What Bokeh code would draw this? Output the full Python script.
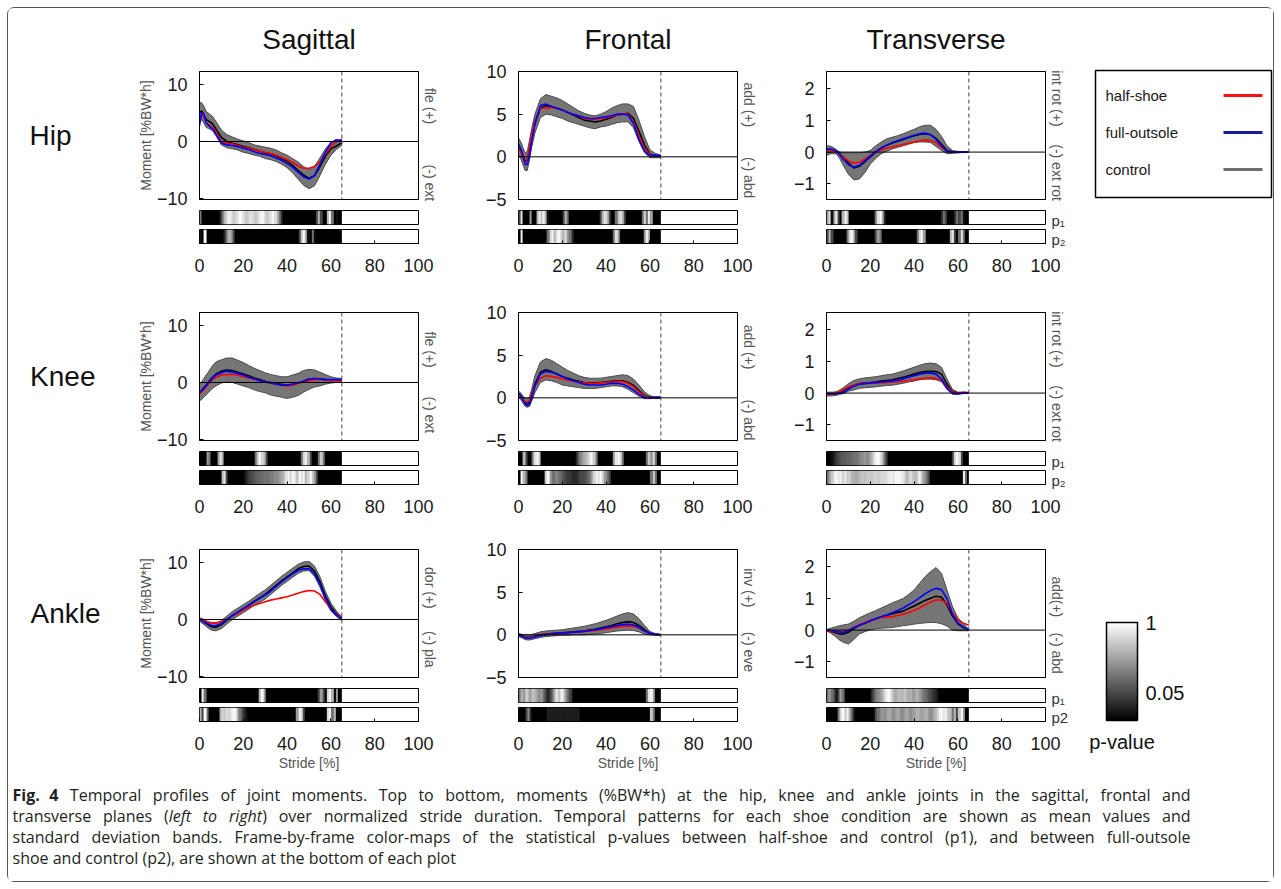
import subprocess
import numpy as np
from bokeh.plotting import figure
from bokeh.models import (Range1d, LinearAxis, FixedTicker, Span, LogColorMapper,
                          ColorBar, Spacer)
from bokeh.layouts import column, row
from bokeh.palettes import Greys256
from bokeh.embed import file_html
from bokeh.resources import INLINE
from bokeh.core.properties import value

# ------------------------------------------------------------------ data
STRIDE = [0, 1, 2, 3, 4, 5, 6, 7.5, 10, 12.5, 15, 17.5, 20, 22.5, 25, 27.5, 30,
          32.5, 35, 37.5, 40, 42.5, 45, 47.5, 50, 52.5, 55, 57.5, 60, 62.5, 65]
TOE_OFF = 65          # end of stance (% stride), dashed line
FRAME_STEP = 1        # one p-value per 1 % of stride

PLANES = ["Sagittal", "Frontal", "Transverse"]
JOINTS = ["Hip", "Knee", "Ankle"]
SERIES_LABELS = ["half-shoe", "full-outsole", "control"]
X_TICKS = [0, 20, 40, 60, 80, 100]
Y_TICKS = {"Sagittal": [-10, 0, 10], "Frontal": [-5, 0, 5, 10], "Transverse": [-1, 0, 1, 2]}
Y_LIMITS = {"Sagittal": (-10.2, 12.3), "Frontal": (-5, 10), "Transverse": (-1.5, 2.55)}
Y_LABEL = "Moment [%BW*h]"
X_LABEL = "Stride [%]"
SIDE_LABELS = {
    ("Hip", "Sagittal"): ("fle (+)", 73, "(-) ext", 13),
    ("Hip", "Frontal"): ("add (+)", 74, "(-) abd", 17),
    ("Hip", "Transverse"): ("int rot (+)", 79, "(-) ext rot", 21),
    ("Knee", "Sagittal"): ("fle (+)", 71, "(-) ext", 20),
    ("Knee", "Frontal"): ("add (+)", 73, "(-) abd", 16),
    ("Knee", "Transverse"): ("int rot (+)", 79, "(-) ext rot", 21),
    ("Ankle", "Sagittal"): ("dor (+)", 70, "(-) pla", 22),
    ("Ankle", "Frontal"): ("inv (+)", 70, "(-) eve", 20),
    ("Ankle", "Transverse"): ("add(+)", 63, "(-) abd", 19),
}
P_LABELS = {"Hip": ["p\u2081", "p\u2082"], "Knee": ["p\u2081", "p\u2082"], "Ankle": ["p\u2081", "p2"]}
P_TICKS = [0.05, 1]
P_LOW, P_HIGH = 0.0156, 1.0

# ---- hip
hip_sag_half = [3.5, 4.7, 4.4, 3.3, 3.0, 2.8, 2.4, 1.7, -0.1, -0.3, -0.4, -0.7, -1.0, -1.2, -1.4, -1.7, -1.9, -2.1, -2.4, -2.8, -3.2, -3.7, -4.3, -4.7, -4.7, -4.4, -3.5, -2.2, -0.9, 0.0, 0.4]
hip_sag_full = [2.8, 5.1, 4.8, 3.3, 2.9, 2.5, 2.2, 1.3, -0.3, -0.6, -0.7, -0.9, -1.2, -1.4, -1.8, -2.1, -2.3, -2.5, -2.9, -3.3, -3.9, -4.5, -5.4, -6.2, -6.6, -6.0, -4.0, -1.9, -0.2, 0.3, 0.1]
hip_sag_ctrl = [5.0, 5.4, 4.6, 3.9, 3.6, 3.4, 3.1, 2.2, 0.7, 0.0, -0.3, -0.6, -0.9, -1.1, -1.4, -1.7, -2.0, -2.2, -2.5, -3.0, -3.5, -4.2, -5.1, -5.9, -6.5, -6.0, -4.4, -2.6, -1.3, -0.8, -0.2]
hip_sag_hi = [6.9, 6.8, 6.2, 5.3, 5.0, 4.7, 4.4, 3.5, 2.0, 1.2, 0.8, 0.4, 0.1, -0.2, -0.6, -0.8, -1.0, -1.2, -1.5, -2.0, -2.4, -3.0, -3.6, -4.4, -5.0, -4.4, -2.9, -1.3, -0.2, -0.1, 0.2]
hip_sag_lo = [3.3, 3.9, 3.2, 2.5, 2.3, 2.1, 1.9, 1.0, -0.6, -1.1, -1.3, -1.5, -1.9, -2.1, -2.4, -2.6, -3.0, -3.2, -3.5, -4.0, -4.6, -5.5, -6.6, -7.7, -8.3, -7.8, -6.0, -4.0, -2.4, -1.4, -0.7]

hip_fro_half = [1.0, 0.6, -0.1, -0.7, -0.5, 1.2, 2.6, 4.2, 5.7, 5.7, 5.8, 5.7, 5.5, 5.2, 5.0, 4.8, 4.5, 4.4, 4.4, 4.5, 4.6, 4.7, 4.9, 5.0, 5.0, 4.1, 2.4, 1.0, 0.3, 0.15, 0.1]
hip_fro_full = [1.5, 1.0, 0.2, -0.9, -0.9, 0.2, 1.8, 3.9, 6.0, 6.2, 5.9, 5.7, 5.5, 5.2, 5.0, 4.8, 4.6, 4.5, 4.5, 4.6, 4.7, 4.8, 5.0, 5.0, 4.9, 3.9, 2.0, 0.7, 0.15, 0.2, 0.15]
hip_fro_ctrl = [1.2, 0.8, 0.1, -0.5, -0.4, 0.8, 2.2, 3.9, 5.7, 6.0, 5.9, 5.7, 5.5, 5.2, 4.9, 4.6, 4.3, 4.2, 4.1, 4.2, 4.4, 4.6, 4.9, 5.0, 5.1, 4.5, 3.0, 1.4, 0.3, 0.15, 0.05]
hip_fro_hi = [2.2, 1.8, 1.1, 0.5, 0.6, 1.9, 3.3, 5.0, 6.8, 7.3, 7.1, 6.9, 6.6, 6.2, 5.8, 5.4, 5.1, 4.9, 4.8, 5.0, 5.3, 5.7, 6.0, 6.2, 6.2, 5.9, 4.3, 2.4, 0.8, 0.4, 0.2]
hip_fro_lo = [0.2, -0.2, -0.9, -1.6, -1.6, -0.4, 1.1, 2.8, 4.6, 5.0, 4.9, 4.7, 4.5, 4.2, 4.0, 3.8, 3.6, 3.4, 3.3, 3.5, 3.6, 3.8, 4.0, 4.1, 4.1, 3.4, 1.8, 0.5, -0.1, -0.1, -0.1]

hip_tra_half = [0.05, 0.05, 0.05, 0.04, 0.02, -0.02, -0.07, -0.15, -0.28, -0.35, -0.32, -0.22, -0.1, 0.0, 0.07, 0.12, 0.16, 0.2, 0.24, 0.28, 0.32, 0.36, 0.38, 0.37, 0.3, 0.15, 0.03, 0.0, -0.01, 0.0, 0.0]
hip_tra_full = [0.1, 0.1, 0.1, 0.08, 0.05, 0.0, -0.08, -0.22, -0.4, -0.48, -0.42, -0.28, -0.12, 0.02, 0.13, 0.22, 0.3, 0.36, 0.42, 0.48, 0.53, 0.58, 0.6, 0.55, 0.4, 0.2, 0.03, 0.0, 0.0, 0.0, 0.0]
hip_tra_ctrl = [0.06, 0.07, 0.07, 0.06, 0.04, 0.01, -0.05, -0.15, -0.35, -0.5, -0.45, -0.3, -0.15, 0.0, 0.13, 0.22, 0.29, 0.34, 0.4, 0.46, 0.52, 0.56, 0.58, 0.55, 0.43, 0.25, 0.06, 0.0, 0.0, 0.0, 0.0]
hip_tra_hi = [0.2, 0.2, 0.18, 0.15, 0.1, 0.05, 0.0, -0.02, -0.02, -0.02, -0.02, 0.0, 0.05, 0.2, 0.32, 0.42, 0.47, 0.52, 0.58, 0.65, 0.72, 0.8, 0.85, 0.85, 0.72, 0.5, 0.2, 0.05, 0.02, 0.01, 0.0]
hip_tra_lo = [-0.1, -0.08, -0.05, -0.05, -0.05, -0.1, -0.2, -0.4, -0.7, -0.88, -0.85, -0.65, -0.38, -0.2, -0.05, 0.03, 0.1, 0.15, 0.2, 0.25, 0.3, 0.32, 0.32, 0.3, 0.18, 0.05, -0.05, -0.04, -0.02, -0.01, 0.0]

# ---- knee
knee_sag_half = [-2.1, -1.7, -1.3, -0.8, -0.3, 0.1, 0.5, 0.9, 1.3, 1.4, 1.4, 1.3, 1.0, 0.8, 0.6, 0.3, 0.1, -0.1, -0.3, -0.5, -0.6, -0.5, -0.2, 0.1, 0.3, 0.5, 0.5, 0.5, 0.3, 0.3, 0.3]
knee_sag_full = [-1.8, -1.5, -1.0, -0.6, -0.1, 0.3, 0.8, 1.3, 1.7, 2.0, 1.8, 1.6, 1.3, 0.9, 0.6, 0.3, 0.1, -0.1, -0.3, -0.5, -0.5, -0.3, -0.1, 0.2, 0.6, 0.7, 0.6, 0.5, 0.5, 0.5, 0.5]
knee_sag_ctrl = [-1.7, -1.4, -0.9, -0.5, 0.0, 0.5, 0.9, 1.5, 2.0, 2.2, 2.1, 1.8, 1.5, 1.2, 0.8, 0.5, 0.2, 0.0, -0.2, -0.3, -0.5, -0.3, -0.1, 0.2, 0.6, 0.7, 0.6, 0.5, 0.4, 0.4, 0.4]
knee_sag_hi = [-0.3, 0.1, 0.7, 1.3, 1.8, 2.4, 3.0, 3.6, 4.0, 4.3, 4.3, 3.9, 3.5, 3.0, 2.5, 2.1, 1.7, 1.4, 1.2, 1.0, 1.0, 1.3, 1.6, 2.1, 2.3, 2.2, 1.8, 1.4, 1.0, 0.8, 0.7]
knee_sag_lo = [-3.2, -3.0, -2.5, -2.2, -1.8, -1.4, -1.0, -0.6, -0.1, 0.1, 0.0, -0.3, -0.6, -0.9, -1.3, -1.6, -1.8, -2.2, -2.4, -2.6, -2.8, -2.6, -2.3, -1.7, -1.2, -0.8, -0.6, -0.3, -0.1, 0.0, 0.1]

knee_fro_half = [0.3, 0.1, -0.2, -0.4, -0.5, -0.3, 0.4, 1.4, 2.3, 2.6, 2.5, 2.4, 2.2, 2.1, 1.95, 1.85, 1.75, 1.7, 1.7, 1.75, 1.8, 1.85, 1.9, 1.9, 1.7, 1.3, 0.7, 0.2, 0.0, 0.05, 0.1]
knee_fro_full = [0.5, 0.3, -0.2, -0.7, -0.9, -0.8, 0.0, 1.4, 2.8, 3.1, 3.0, 2.8, 2.5, 2.2, 2.0, 1.8, 1.6, 1.5, 1.5, 1.5, 1.6, 1.7, 1.7, 1.6, 1.3, 0.9, 0.4, 0.05, 0.0, 0.05, 0.1]
knee_fro_ctrl = [0.45, 0.2, -0.2, -0.5, -0.7, -0.5, 0.3, 1.6, 3.0, 3.3, 3.1, 2.8, 2.5, 2.3, 2.1, 1.95, 1.8, 1.75, 1.75, 1.8, 1.85, 1.95, 2.0, 2.0, 1.8, 1.45, 0.85, 0.27, 0.05, 0.0, 0.0]
knee_fro_hi = [0.8, 0.6, 0.2, 0.0, -0.1, 0.1, 1.0, 2.6, 4.2, 4.6, 4.4, 4.0, 3.6, 3.2, 2.9, 2.6, 2.4, 2.3, 2.3, 2.3, 2.4, 2.5, 2.6, 2.7, 2.6, 2.2, 1.5, 0.7, 0.25, 0.1, 0.05]
knee_fro_lo = [0.1, -0.2, -0.6, -1.0, -1.1, -1.0, -0.4, 0.6, 1.8, 2.1, 2.0, 1.8, 1.5, 1.4, 1.3, 1.2, 1.1, 1.1, 1.1, 1.2, 1.3, 1.4, 1.4, 1.3, 1.0, 0.6, 0.2, -0.1, -0.1, -0.05, -0.05]

knee_tra_half = [-0.05, -0.04, -0.03, -0.02, 0.0, 0.02, 0.05, 0.1, 0.2, 0.25, 0.3, 0.31, 0.32, 0.32, 0.33, 0.34, 0.35, 0.36, 0.38, 0.4, 0.42, 0.45, 0.47, 0.48, 0.47, 0.4, 0.2, 0.03, 0.0, 0.02, 0.02]
knee_tra_full = [-0.02, -0.02, -0.02, -0.02, -0.02, -0.02, 0.0, 0.02, 0.12, 0.22, 0.28, 0.3, 0.32, 0.33, 0.35, 0.36, 0.38, 0.41, 0.45, 0.5, 0.55, 0.6, 0.63, 0.64, 0.6, 0.45, 0.15, 0.0, -0.03, 0.0, 0.0]
knee_tra_ctrl = [-0.03, -0.03, -0.03, -0.03, -0.02, 0.0, 0.03, 0.07, 0.18, 0.25, 0.3, 0.32, 0.33, 0.35, 0.38, 0.4, 0.42, 0.46, 0.5, 0.55, 0.6, 0.65, 0.68, 0.69, 0.68, 0.6, 0.28, 0.04, 0.0, 0.02, 0.0]
knee_tra_hi = [0.03, 0.03, 0.03, 0.03, 0.04, 0.06, 0.1, 0.16, 0.3, 0.4, 0.45, 0.48, 0.5, 0.52, 0.55, 0.58, 0.6, 0.65, 0.7, 0.76, 0.82, 0.88, 0.93, 0.95, 0.93, 0.82, 0.45, 0.12, 0.03, 0.03, 0.02]
knee_tra_lo = [-0.09, -0.09, -0.09, -0.08, -0.08, -0.06, -0.04, -0.02, 0.06, 0.1, 0.15, 0.17, 0.18, 0.2, 0.22, 0.24, 0.25, 0.28, 0.31, 0.35, 0.38, 0.42, 0.44, 0.44, 0.42, 0.36, 0.12, -0.04, -0.04, 0.0, -0.02]

# ---- ankle
ank_sag_half = [0.0, -0.1, -0.2, -0.35, -0.45, -0.55, -0.6, -0.6, -0.35, 0.1, 0.6, 1.1, 1.7, 2.1, 2.5, 2.8, 3.1, 3.4, 3.6, 3.8, 4.0, 4.3, 4.6, 4.9, 5.1, 5.0, 4.4, 3.1, 1.8, 0.9, 0.4]
ank_sag_full = [0.0, -0.2, -0.4, -0.6, -0.8, -1.0, -1.1, -1.1, -0.7, 0.0, 0.7, 1.3, 1.9, 2.5, 3.1, 3.7, 4.3, 5.0, 5.8, 6.6, 7.3, 8.0, 8.6, 8.9, 8.9, 8.0, 6.2, 3.8, 1.8, 0.8, 0.2]
ank_sag_ctrl = [0.0, -0.2, -0.45, -0.7, -0.95, -1.2, -1.3, -1.35, -0.9, -0.1, 0.7, 1.3, 1.9, 2.5, 3.2, 3.8, 4.4, 5.2, 6.0, 6.8, 7.5, 8.2, 8.9, 9.3, 9.4, 8.5, 6.6, 4.1, 2.2, 1.0, 0.1]
ank_sag_hi = [0.3, 0.2, 0.0, -0.2, -0.4, -0.6, -0.7, -0.7, -0.2, 0.6, 1.4, 2.0, 2.6, 3.2, 3.9, 4.6, 5.2, 6.0, 6.8, 7.6, 8.3, 9.0, 9.7, 10.1, 10.2, 9.4, 7.5, 4.9, 2.9, 1.5, 0.4]
ank_sag_lo = [-0.3, -0.6, -0.9, -1.2, -1.5, -1.8, -1.9, -2.0, -1.6, -0.8, 0.0, 0.6, 1.2, 1.8, 2.5, 3.0, 3.6, 4.4, 5.2, 6.0, 6.7, 7.4, 8.1, 8.5, 8.6, 7.6, 5.7, 3.3, 1.5, 0.5, -0.2]

ank_fro_half = [0.0, -0.1, -0.2, -0.3, -0.35, -0.35, -0.3, -0.2, -0.05, 0.05, 0.1, 0.15, 0.2, 0.25, 0.3, 0.35, 0.4, 0.45, 0.5, 0.6, 0.7, 0.8, 0.9, 1.0, 1.05, 1.0, 0.8, 0.45, 0.15, 0.05, 0.0]
ank_fro_full = [0.0, -0.1, -0.2, -0.35, -0.4, -0.4, -0.35, -0.25, -0.1, 0.0, 0.1, 0.15, 0.2, 0.25, 0.3, 0.35, 0.4, 0.5, 0.6, 0.7, 0.85, 0.95, 1.1, 1.2, 1.25, 1.15, 0.85, 0.45, 0.15, 0.05, 0.0]
ank_fro_ctrl = [0.0, -0.1, -0.2, -0.3, -0.3, -0.3, -0.25, -0.15, 0.0, 0.1, 0.15, 0.2, 0.25, 0.3, 0.35, 0.4, 0.45, 0.55, 0.65, 0.8, 0.95, 1.1, 1.3, 1.45, 1.55, 1.45, 1.1, 0.6, 0.2, 0.05, 0.0]
ank_fro_hi = [0.2, 0.1, 0.0, 0.0, 0.0, 0.0, 0.05, 0.15, 0.35, 0.45, 0.5, 0.55, 0.6, 0.7, 0.8, 0.9, 1.0, 1.15, 1.3, 1.5, 1.7, 1.95, 2.2, 2.45, 2.6, 2.45, 1.9, 1.1, 0.4, 0.15, 0.05]
ank_fro_lo = [-0.2, -0.3, -0.4, -0.55, -0.6, -0.6, -0.55, -0.45, -0.3, -0.2, -0.15, -0.1, -0.05, -0.05, 0.0, 0.0, 0.0, 0.05, 0.1, 0.15, 0.25, 0.35, 0.45, 0.5, 0.55, 0.5, 0.35, 0.1, 0.0, -0.05, -0.05]

ank_tra_half = [-0.02, -0.03, -0.04, -0.04, -0.05, -0.05, -0.05, -0.05, 0.0, 0.08, 0.17, 0.24, 0.3, 0.35, 0.4, 0.41, 0.42, 0.46, 0.5, 0.56, 0.62, 0.7, 0.8, 0.88, 0.95, 0.95, 0.85, 0.55, 0.32, 0.22, 0.15]
ank_tra_full = [0.0, -0.01, -0.02, -0.03, -0.04, -0.05, -0.06, -0.08, -0.02, 0.08, 0.15, 0.22, 0.3, 0.36, 0.42, 0.48, 0.55, 0.62, 0.7, 0.8, 0.9, 1.02, 1.15, 1.25, 1.32, 1.28, 1.0, 0.5, 0.22, 0.1, 0.0]
ank_tra_ctrl = [0.0, -0.02, -0.04, -0.06, -0.08, -0.1, -0.12, -0.13, -0.07, 0.05, 0.15, 0.22, 0.29, 0.36, 0.42, 0.47, 0.52, 0.56, 0.6, 0.68, 0.76, 0.85, 0.94, 1.01, 1.07, 1.04, 0.8, 0.45, 0.2, 0.08, 0.0]
ank_tra_hi = [0.02, 0.04, 0.06, 0.08, 0.1, 0.12, 0.14, 0.16, 0.19, 0.28, 0.39, 0.47, 0.55, 0.62, 0.7, 0.78, 0.86, 0.93, 1.0, 1.13, 1.27, 1.48, 1.69, 1.85, 1.98, 1.8, 1.27, 0.75, 0.39, 0.2, 0.02]
ank_tra_lo = [-0.02, -0.06, -0.1, -0.15, -0.2, -0.26, -0.32, -0.38, -0.44, -0.3, -0.12, -0.05, 0.01, 0.04, 0.06, 0.07, 0.08, 0.11, 0.14, 0.16, 0.19, 0.21, 0.23, 0.24, 0.24, 0.2, 0.13, 0.0, -0.02, -0.02, -0.02]

# ---- frame-by-frame p-values (one per 1 % stride, 0..64)
hip_sag_p1 = [.1, .001, .001, .001, .001, .001, .001, .001, .001, .03,
              .1, .3, .5, .8, .6, .4, .5, .6, .9, .7,
              .5, .4, .5, .6, .5, .4, .5, .7, .9, .6,
              .4, .5, .6, .9, .6, .3, .1, .03, .001, .001,
              .001, .001, .001, .001, .001, .001, .001, .001, .001, .001,
              .001, .001, .001, .05, .3, .05, .001, .001, .3, .9,
              .1, .001, .02, .001, .001]
hip_sag_p2 = [.02, .001, .9, .001, .001, .001, .001, .001, .001, .001,
              .001, .03, .1, .3, .2, .05, .01, .001, .001, .001,
              .001, .001, .001, .001, .001, .001, .001, .001, .001, .001,
              .001, .001, .001, .001, .001, .001, .001, .001, .001, .001,
              .001, .001, .001, .001, .001, .05, .4, .9, .3, .02,
              .001, .1, .02, .001, .001, .001, .001, .001, .001, .001,
              .001, .001, .001, .001, .001]
hip_fro_p1 = [.05, .6, .01, .001, .001, .2, .01, .001, .3, .7,
              .4, .8, .3, .02, .001, .001, .001, .001, .001, .001,
              .05, .3, .1, .001, .001, .001, .001, .001, .001, .001,
              .001, .001, .001, .001, .001, .001, .001, .05, .3, .6,
              .3, .05, .001, .001, .1, .4, .6, .3, .05, .001,
              .001, .001, .001, .001, .001, .001, .1, .5, .1, .7,
              .2, .001, .001, .001, .001]
hip_fro_p2 = [.001, .8, .001, .001, .001, .001, .001, .001, .001, .001,
              .001, .001, .001, .1, .5, .8, .3, .6, .9, .4,
              .3, .6, .2, .1, .03, .001, .001, .001, .001, .001,
              .001, .001, .001, .001, .001, .001, .001, .001, .001, .001,
              .001, .001, .001, .1, .6, .2, .001, .001, .001, .001,
              .001, .001, .001, .001, .001, .001, .001, .2, .8, .3,
              .001, .001, .001, .001, .001]
hip_tra_p1 = [.2, .6, .02, .3, .7, .05, .001, .3, .8, .4,
              .001, .001, .001, .001, .001, .001, .001, .001, .001, .001,
              .001, .001, .1, .6, .9, .3, .03, .001, .001, .001,
              .001, .001, .001, .001, .001, .001, .001, .001, .001, .001,
              .001, .001, .001, .001, .001, .001, .001, .001, .001, .001,
              .001, .001, .03, .1, .05, .001, .001, .001, .03, .1,
              .05, .1, .02, .001, .001]
hip_tra_p2 = [.05, .3, .05, .001, .001, .001, .001, .001, .001, .1,
              .5, .9, .4, .05, .001, .001, .001, .001, .001, .001,
              .001, .001, .05, .2, .1, .001, .001, .001, .001, .001,
              .001, .001, .001, .001, .001, .001, .001, .001, .001, .001,
              .001, .1, .5, .9, .2, .001, .001, .001, .001, .001,
              .001, .001, .001, .001, .001, .001, .3, .7, .05, .001,
              .1, .6, .1, .001, .001]
knee_sag_p1 = [.001, .001, .001, .2, .1, .001, .001, .001, .2, .6,
               .3, .001, .001, .001, .001, .001, .001, .001, .001, .001,
               .001, .001, .001, .001, .001, .1, .4, .9, .5, .3,
               .05, .001, .001, .001, .001, .001, .001, .001, .001, .001,
               .001, .001, .001, .001, .001, .001, .1, .5, .8, .3,
               .05, .001, .001, .001, .1, .4, .1, .001, .001, .001,
               .001, .001, .001, .001, .001]
knee_sag_p2 = [.001, .001, .001, .001, .001, .001, .001, .001, .001, .001,
               .3, .6, .05, .001, .001, .001, .001, .001, .001, .001,
               .02, .03, .04, .05, .06, .07, .08, .08, .09, .1,
               .1, .1, .12, .12, .15, .15, .2, .25, .3, .6,
               .8, .5, .9, .7, .4, .9, .6, .8, .3, .5,
               .9, .4, .2, .05, .001, .001, .001, .001, .001, .001,
               .001, .001, .001, .001, .001]
knee_fro_p1 = [.001, .001, .3, .05, .001, .001, .1, .6, .9, .4,
               .001, .001, .001, .001, .001, .001, .001, .001, .001, .001,
               .001, .001, .001, .001, .001, .001, .03, .08, .15, .25,
               .3, .4, .6, .9, .4, .1, .001, .001, .001, .001,
               .001, .001, .001, .2, .7, .9, .5, .1, .001, .001,
               .001, .001, .001, .001, .001, .001, .001, .001, .1, .4,
               .2, .5, .1, .001, .001]
knee_fro_p2 = [.001, .9, .3, .1, .001, .001, .001, .001, .001, .001,
               .001, .001, .4, .9, .2, .1, .1, .15, .1, .08,
               .06, .05, .04, .04, .03, .03, .03, .04, .05, .05,
               .06, .08, .1, .2, .5, .8, .6, .9, .5, .2,
               .1, .05, .001, .001, .001, .001, .001, .001, .001, .001,
               .001, .001, .001, .001, .001, .001, .001, .001, .001, .001,
               .1, .4, .1, .001, .001]
knee_tra_p1 = [.001, .001, .02, .03, .04, .05, .06, .07, .07, .08,
               .08, .09, .1, .1, .12, .15, .15, .2, .15, .2,
               .3, .5, .8, .9, .6, .3, .1, .04, .001, .001,
               .001, .001, .001, .001, .001, .001, .001, .001, .001, .001,
               .001, .001, .001, .001, .001, .001, .001, .001, .001, .001,
               .001, .001, .001, .001, .001, .001, .001, .05, .5, .9,
               .6, .05, .001, .001, .001]
knee_tra_p2 = [.1, .2, .4, .7, .9, .6, .8, .5, .7, .4,
               .5, .3, .3, .25, .3, .35, .4, .35, .4, .45,
               .4, .45, .5, .45, .5, .55, .5, .6, .7, .8,
               .6, .9, .8, .9, .7, .5, .3, .4, .6, .4,
               .3, .5, .8, .4, .2, .1, .05, .001, .001, .001,
               .001, .001, .001, .001, .001, .001, .001, .001, .001, .001,
               .001, .001, .8, .1, .001]
ank_sag_p1 = [.001, .9, .1, .001, .001, .001, .001, .001, .001, .001,
              .001, .001, .001, .001, .001, .001, .001, .001, .001, .001,
              .001, .001, .001, .001, .001, .001, .001, .3, .9, .2,
              .001, .001, .001, .001, .001, .001, .001, .001, .001, .001,
              .001, .001, .001, .001, .001, .001, .001, .001, .001, .001,
              .001, .001, .001, .001, .05, .2, .05, .001, .5, .9,
              .3, .001, .2, .001, .001]
ank_sag_p2 = [.3, .05, .9, .1, .001, .001, .001, .001, .001, .3,
              .5, .4, .6, .5, .7, .9, .8, .3, .1, .05,
              .03, .02, .001, .001, .001, .001, .001, .001, .001, .001,
              .001, .001, .001, .001, .001, .001, .001, .001, .001, .001,
              .001, .001, .001, .001, .2, .8, .5, .05, .001, .001,
              .001, .001, .001, .001, .001, .001, .001, .001, .5, .9,
              .1, .3, .001, .001, .001]
ank_fro_p1 = [.1, .3, .2, .5, .3, .2, .4, .3, .2, .15,
              .2, .1, .05, .03, .05, .1, .3, .7, .4, .9,
              .5, .2, .1, .05, .02, .001, .001, .001, .001, .001,
              .001, .001, .001, .001, .001, .001, .001, .001, .001, .001,
              .001, .001, .001, .001, .001, .001, .001, .001, .001, .001,
              .001, .001, .001, .001, .001, .001, .001, .001, .1, .6,
              .8, .2, .001, .001, .001]
ank_fro_p2 = [.001, .001, .001, .05, .15, .03, .001, .001, .001, .001,
              .001, .001, .01, .025, .025, .025, .025, .025, .025, .025,
              .025, .025, .025, .025, .025, .025, .025, .025, .001, .001,
              .001, .001, .001, .001, .001, .001, .001, .001, .001, .001,
              .001, .001, .001, .001, .001, .001, .001, .001, .001, .001,
              .001, .001, .001, .001, .001, .001, .001, .001, .001, .001,
              .4, .1, .001, .001, .001]
ank_tra_p1 = [.1, .2, .1, .05, .02, .05, .2, .1, .001, .001,
              .001, .001, .001, .001, .001, .001, .001, .001, .001, .001,
              .03, .06, .1, .15, .2, .3, .5, .8, .9, .5,
              .3, .25, .3, .35, .3, .4, .3, .25, .3, .2,
              .25, .3, .2, .15, .1, .08, .06, .05, .04, .03,
              .02, .001, .001, .001, .001, .001, .001, .001, .001, .001,
              .001, .001, .001, .001, .001]
ank_tra_p2 = [.001, .001, .001, .001, .001, .1, .5, .9, .4, .8,
              .3, .1, .03, .001, .001, .001, .001, .001, .001, .001,
              .001, .001, .05, .1, .15, .2, .15, .2, .25, .2,
              .15, .2, .25, .2, .15, .2, .25, .2, .15, .2,
              .25, .3, .25, .2, .25, .3, .2, .15, .2, .3,
              .5, .8, .9, .6, .8, .4, .3, .1, .3, .05,
              .4, .9, .2, .001, .001]

PANELS = {
    ("Hip", "Sagittal"): dict(half=hip_sag_half, full=hip_sag_full, ctrl=hip_sag_ctrl, lo=hip_sag_lo, hi=hip_sag_hi, p1=hip_sag_p1, p2=hip_sag_p2),
    ("Hip", "Frontal"): dict(half=hip_fro_half, full=hip_fro_full, ctrl=hip_fro_ctrl, lo=hip_fro_lo, hi=hip_fro_hi, p1=hip_fro_p1, p2=hip_fro_p2),
    ("Hip", "Transverse"): dict(half=hip_tra_half, full=hip_tra_full, ctrl=hip_tra_ctrl, lo=hip_tra_lo, hi=hip_tra_hi, p1=hip_tra_p1, p2=hip_tra_p2),
    ("Knee", "Sagittal"): dict(half=knee_sag_half, full=knee_sag_full, ctrl=knee_sag_ctrl, lo=knee_sag_lo, hi=knee_sag_hi, p1=knee_sag_p1, p2=knee_sag_p2),
    ("Knee", "Frontal"): dict(half=knee_fro_half, full=knee_fro_full, ctrl=knee_fro_ctrl, lo=knee_fro_lo, hi=knee_fro_hi, p1=knee_fro_p1, p2=knee_fro_p2),
    ("Knee", "Transverse"): dict(half=knee_tra_half, full=knee_tra_full, ctrl=knee_tra_ctrl, lo=knee_tra_lo, hi=knee_tra_hi, p1=knee_tra_p1, p2=knee_tra_p2),
    ("Ankle", "Sagittal"): dict(half=ank_sag_half, full=ank_sag_full, ctrl=ank_sag_ctrl, lo=ank_sag_lo, hi=ank_sag_hi, p1=ank_sag_p1, p2=ank_sag_p2),
    ("Ankle", "Frontal"): dict(half=ank_fro_half, full=ank_fro_full, ctrl=ank_fro_ctrl, lo=ank_fro_lo, hi=ank_fro_hi, p1=ank_fro_p1, p2=ank_fro_p2),
    ("Ankle", "Transverse"): dict(half=ank_tra_half, full=ank_tra_full, ctrl=ank_tra_ctrl, lo=ank_tra_lo, hi=ank_tra_hi, p1=ank_tra_p1, p2=ank_tra_p2),
}

CAPTION_LINES = [
    [("Fig. 4", "bold"),
     (" Temporal profiles of joint moments. Top to bottom, moments (%BW*h) at the hip, knee and ankle joints in the sagittal, frontal and", "normal")],
    [("transverse planes (", "normal"), ("left to right", "italic"),
     (") over normalized stride duration. Temporal patterns for each shoe condition are shown as mean values and", "normal")],
    [("standard deviation bands. Frame-by-frame color-maps of the statistical p-values between half-shoe and control (p1), and between full-outsole", "normal")],
    [("shoe and control (p2), are shown at the bottom of each plot", "normal")],
]

# ------------------------------------------------------------------ style
FONT = "Liberation Sans"
CAP_FONT = "Open Sans"
CAP_SIZE = 16
CAP_JUSTIFY_W = 1178
HALF_COLOR, FULL_COLOR, CTRL_COLOR = "#ff0000", "#0000ff", "#000000"
BAND_COLOR, BAND_EDGE = "#767676", "#4a4a4a"
LEGEND_COLORS = ["#ff1010", "#1a1aa0", "#6e6e6e"]
FRAME_W, FRAME_H, STRIP_H = 219, 128, 14
LEFT = {"Sagittal": 191, "Frontal": 48, "Transverse": 46}
RIGHT = {"Sagittal": 52, "Frontal": 43, "Transverse": 40}
TOP = {"Hip": 61, "Knee": 29, "Ankle": 25}
MAIN_BOTTOM = 11
STRIP1_BOTTOM = 5
STRIP2_BOTTOM = {"Hip": 40, "Knee": 40, "Ankle": 60}
ROW_LABEL_STANDOFF = {"Hip": 57, "Knee": 33, "Ankle": 28}
RIGHT_COL_W = 188


def block_height(joint):
    return TOP[joint] + FRAME_H + MAIN_BOTTOM + STRIP_H + STRIP1_BOTTOM + STRIP_H + STRIP2_BOTTOM[joint]


PAGE_H = 871
CAP_H = PAGE_H - sum(block_height(j) for j in JOINTS)
CAP_FIRST = 792 - 8 - (PAGE_H - CAP_H)   # first caption line centre, px below caption top
CAP_STEP = 21.3

PMAP = LogColorMapper(palette=Greys256, low=P_LOW, high=P_HIGH)


def base_fig(**kw):
    p = figure(toolbar_location=None, output_backend="svg", **kw)
    p.background_fill_color = "white"
    p.border_fill_color = "white"
    p.xgrid.grid_line_color = None
    p.ygrid.grid_line_color = None
    return p


def make_main(joint, plane):
    d = PANELS[(joint, plane)]
    y0, y1 = Y_LIMITS[plane]
    p = base_fig(frame_width=FRAME_W, frame_height=FRAME_H,
                 x_range=Range1d(0, 100), y_range=Range1d(y0, y1),
                 min_border_left=LEFT[plane], min_border_right=RIGHT[plane],
                 min_border_top=TOP[joint], min_border_bottom=MAIN_BOTTOM,
                 x_axis_location=None,
                 title=(plane if joint == "Hip" else None))
    if joint == "Hip":
        p.title.text_font = FONT
        p.title.text_font_size = "28px"
        p.title.text_font_style = "normal"
        p.title.text_color = "#111111"
        p.title.align = "center"
        p.title.vertical_align = "top"
        p.title.standoff = 30
    p.outline_line_color = "black"
    p.extra_y_ranges = {"side": Range1d(0, 100), "row": Range1d(0, 2)}

    p.varea(x=STRIDE, y1=d["lo"], y2=d["hi"], fill_color=BAND_COLOR)
    p.line(STRIDE, d["lo"], line_color=BAND_EDGE, line_width=1)
    p.line(STRIDE, d["hi"], line_color=BAND_EDGE, line_width=1)
    p.add_layout(Span(location=0, dimension="width", line_color="black", line_width=1))
    p.add_layout(Span(location=TOE_OFF, dimension="height", line_color="#444444",
                      line_width=1, line_dash="4 3"))
    p.line(STRIDE, d["ctrl"], line_color=CTRL_COLOR, line_width=1.6)
    p.line(STRIDE, d["half"], line_color=HALF_COLOR, line_width=1.6)
    p.line(STRIDE, d["full"], line_color=FULL_COLOR, line_width=1.6)

    ya = p.yaxis[0]
    ya.ticker = FixedTicker(ticks=Y_TICKS[plane])
    ya.major_label_text_font = FONT
    ya.major_label_text_font_size = "18px"
    ya.major_label_text_color = "#1a1a1a"
    ya.major_tick_in = 4
    ya.major_tick_out = 0
    ya.minor_tick_line_color = None
    ya.major_label_standoff = 12
    if plane == "Sagittal":
        ya.axis_label = Y_LABEL
        ya.axis_label_text_font = FONT
        ya.axis_label_text_font_size = "14px"
        ya.axis_label_text_font_style = "normal"
        ya.axis_label_text_color = "#555555"
        ya.axis_label_standoff = 0
        la = LinearAxis(y_range_name="row", ticker=FixedTicker(ticks=[1]),
                        major_label_overrides={1: joint},
                        major_label_text_font=FONT, major_label_text_font_size="28px",
                        major_label_text_color="#111111",
                        major_label_standoff=ROW_LABEL_STANDOFF[joint],
                        axis_line_color=None, major_tick_line_color=None,
                        minor_tick_line_color=None)
        p.add_layout(la, "left")

    up_txt, up_pos, dn_txt, dn_pos = SIDE_LABELS[(joint, plane)]
    ra = LinearAxis(y_range_name="side", ticker=FixedTicker(ticks=[up_pos, dn_pos]),
                    major_label_overrides={up_pos: up_txt, dn_pos: dn_txt},
                    major_label_orientation="vertical",
                    major_label_text_font=FONT, major_label_text_font_size="14px",
                    major_label_text_color="#555555", major_label_standoff=-3,
                    axis_line_color="black", major_tick_line_color=None,
                    minor_tick_line_color=None)
    p.add_layout(ra, "right")
    return p


def make_strip(joint, plane, k):
    vals = PANELS[(joint, plane)]["p%d" % k]
    last = (k == 2)
    s = base_fig(frame_width=FRAME_W, frame_height=STRIP_H,
                 x_range=Range1d(0, 100), y_range=Range1d(0, 1),
                 min_border_left=LEFT[plane], min_border_right=RIGHT[plane],
                 min_border_top=0,
                 min_border_bottom=(STRIP2_BOTTOM[joint] if last else STRIP1_BOTTOM),
                 x_axis_location=("below" if last else None), y_axis_location=None)
    s.outline_line_color = "black"
    s.image(image=[np.array([vals], dtype=float)], x=0, y=0,
            dw=len(vals) * FRAME_STEP, dh=1, color_mapper=PMAP)
    if last:
        xa = s.xaxis[0]
        xa.ticker = FixedTicker(ticks=X_TICKS)
        xa.major_label_text_font = FONT
        xa.major_label_text_font_size = "18px"
        xa.major_label_text_color = "#1a1a1a"
        xa.major_tick_in = 3
        xa.major_tick_out = 0
        xa.minor_tick_line_color = None
        xa.major_label_standoff = 15
        xa.axis_line_color = "black"
        if joint == "Ankle":
            xa.axis_label = X_LABEL
            xa.axis_label_text_font = FONT
            xa.axis_label_text_font_size = "14px"
            xa.axis_label_text_font_style = "normal"
            xa.axis_label_text_color = "#555555"
            xa.axis_label_standoff = 2
    if plane == "Transverse":
        s.extra_y_ranges = {"lab": Range1d(0, 2)}
        ra = LinearAxis(y_range_name="lab", ticker=FixedTicker(ticks=[1]),
                        major_label_overrides={1: P_LABELS[joint][k - 1]},
                        major_label_text_font=FONT, major_label_text_font_size="15px",
                        major_label_text_color="#333333", major_label_standoff=0,
                        axis_line_color=None, major_tick_line_color=None,
                        minor_tick_line_color=None)
        s.add_layout(ra, "right")
    return s


def make_legend():
    n = len(SERIES_LABELS)
    h = block_height("Hip")
    lg = base_fig(frame_width=176, frame_height=127,
                  x_range=Range1d(0, 176), y_range=Range1d(2.755, -0.675),
                  min_border_left=10, min_border_right=RIGHT_COL_W - 186,
                  min_border_top=62, min_border_bottom=h - 62 - 127,
                  x_axis_location=None, y_axis_location=None)
    lg.outline_line_color = "black"
    lg.outline_line_width = 1.5
    idx = list(range(n))
    lg.text(x=[10] * n, y=idx, text=SERIES_LABELS, text_baseline="middle",
            text_font=value(FONT), text_font_size="15px", text_color="#1a1a1a")
    lg.segment(x0=[128] * n, x1=[167] * n, y0=idx, y1=idx,
               line_color=LEGEND_COLORS, line_width=3)
    return lg


def make_colorbar():
    h = block_height("Ankle")
    cbf = base_fig(frame_width=31, frame_height=98,
                   x_range=Range1d(0, 1), y_range=Range1d(0, 1),
                   min_border_left=21, min_border_right=RIGHT_COL_W - 52,
                   min_border_top=98, min_border_bottom=h - 98 - 98,
                   y_axis_location=None)
    cbf.outline_line_color = None
    xa = cbf.xaxis[0]
    xa.ticker = FixedTicker(ticks=[])
    xa.axis_line_color = None
    xa.major_tick_line_color = None
    xa.minor_tick_line_color = None
    xa.axis_label = "p-value"
    xa.axis_label_text_font = FONT
    xa.axis_label_text_font_size = "20px"
    xa.axis_label_text_font_style = "normal"
    xa.axis_label_text_color = "#111111"
    xa.axis_label_standoff = 10
    cb = ColorBar(color_mapper=PMAP, ticker=FixedTicker(ticks=P_TICKS),
                  major_label_overrides={P_TICKS[0]: "0.05", P_TICKS[1]: "1"},
                  major_label_text_font=FONT, major_label_text_font_size="20px",
                  major_label_text_color="#111111",
                  major_tick_line_color=None, minor_tick_line_color=None,
                  bar_line_color="black", bar_line_width=1.5,
                  width=31, height=98, location=(0, 0), padding=0, margin=0,
                  label_standoff=8, background_fill_color=None, border_line_color=None)
    cbf.add_layout(cb)
    return cbf


def _measurer(family, style, size):
    fc_style = {"normal": "Regular", "bold": "Bold", "italic": "Italic"}[style]
    try:
        from PIL import ImageFont
        path = subprocess.run(["fc-match", "-f", "%{file}", "%s:style=%s" % (family, fc_style)],
                              capture_output=True, text=True, timeout=10).stdout.strip()
        fnt = ImageFont.truetype(path, size)
        return lambda s: float(fnt.getlength(s))
    except Exception:
        factor = {"normal": 0.53, "bold": 0.58, "italic": 0.5}[style]
        return lambda s: len(s) * size * factor


def _words(runs):
    words = [[]]
    for txt, style in runs:
        for j, part in enumerate(txt.split(" ")):
            if j > 0:
                words.append([])
            if part:
                words[-1].append((part, style))
    return [w for w in words if w]


def make_caption():
    c = base_fig(frame_width=1265, frame_height=CAP_H, min_border=0,
                 x_range=Range1d(-4, 1261),
                 y_range=Range1d((CAP_H - CAP_FIRST) / CAP_STEP, -CAP_FIRST / CAP_STEP),
                 x_axis_location=None, y_axis_location=None)
    c.outline_line_color = None
    meas = {st: _measurer(CAP_FONT, st, CAP_SIZE) for st in ("normal", "bold", "italic")}
    space_w = meas["normal"](" ")
    glyphs = {st: ([], [], []) for st in ("normal", "bold", "italic")}
    for li, runs in enumerate(CAPTION_LINES):
        words = _words(runs)
        widths = [sum(meas[st](t) for t, st in w) for w in words]
        last_line = (li == len(CAPTION_LINES) - 1)
        gap = space_w if last_line else (CAP_JUSTIFY_W - sum(widths)) / (len(words) - 1)
        xcur = 0.0
        for w, wd in zip(words, widths):
            xp = xcur
            for t, st in w:
                glyphs[st][0].append(xp)
                glyphs[st][1].append(li)
                glyphs[st][2].append(t)
                xp += meas[st](t)
            xcur += wd + gap
    for st, (xs, ys, ts) in glyphs.items():
        if ts:
            c.text(x=xs, y=ys, text=ts, text_baseline="middle",
                   text_font=value(CAP_FONT), text_font_size="%dpx" % CAP_SIZE,
                   text_font_style=st, text_color="#231f20")
    return c


rows = []
right_items = {"Hip": make_legend(),
               "Knee": Spacer(width=RIGHT_COL_W, height=block_height("Knee")),
               "Ankle": make_colorbar()}
for joint in JOINTS:
    items = []
    for plane in PLANES:
        items.append(column(make_main(joint, plane), make_strip(joint, plane, 1),
                            make_strip(joint, plane, 2), spacing=0))
    items.append(right_items[joint])
    rows.append(row(*items, spacing=0))

layout = column(*rows, make_caption(), spacing=0,
                styles={"margin": "7px", "border": "1px solid #555555", "border-radius": "7px"})

open("out.html", "w").write(file_html(layout, INLINE))
